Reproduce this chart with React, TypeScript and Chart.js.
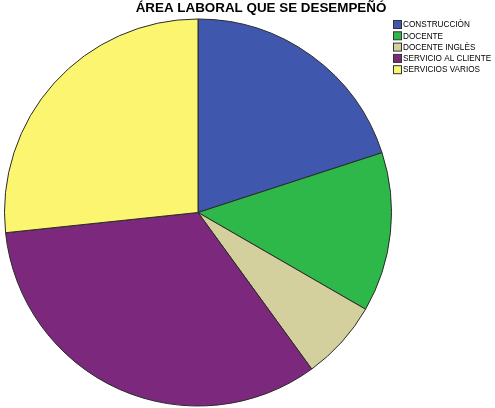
import React, { useEffect, useRef } from "react";
import { Chart, registerables } from "chart.js";

Chart.register(...registerables);

const title = "ÁREA LABORAL QUE SE DESEMPEÑÓ";
const categories = ["CONSTRUCCIÒN", "DOCENTE", "DOCENTE INGLÈS", "SERVICIO AL CLIENTE", "SERVICIOS VARIOS"];
const values = [3, 2, 1, 5, 4];
const colors = ["#3f58ad", "#2fb84a", "#d4d09e", "#7c287c", "#fbf570"];

const overlayPlugin = {
  id: "overlay",
  afterDraw(chart: any) {
    const ctx = chart.ctx;
    ctx.save();
    ctx.fillStyle = "#000";
    ctx.font = "bold 13.4px 'Liberation Sans', Arial, sans-serif";
    ctx.textAlign = "center";
    ctx.textBaseline = "middle";
    ctx.fillText(title, 261, 8.5);
    const labels = chart.data.labels;
    const bg = chart.data.datasets[0].backgroundColor;
    ctx.font = "8.2px 'Liberation Sans', Arial, sans-serif";
    ctx.textAlign = "left";
    labels.forEach((l: string, i: number) => {
      const y = 25 + i * 11.3;
      ctx.fillStyle = bg[i];
      ctx.fillRect(393.5, y - 4.5, 8, 8);
      ctx.strokeStyle = "#333";
      ctx.lineWidth = 1;
      ctx.strokeRect(393.5, y - 4.5, 8, 8);
      ctx.fillStyle = "#000";
      ctx.fillText(l, 403, y);
    });
    ctx.restore();
  },
};

export default function App() {
  const ref = useRef<HTMLCanvasElement>(null);
  useEffect(() => {
    if (!ref.current) return;
    const chart = new Chart(ref.current, {
      type: "pie",
      data: {
        labels: categories,
        datasets: [
          {
            data: values,
            backgroundColor: colors,
            borderColor: "#2a2a2a",
            borderWidth: 1,
          },
        ],
      },
      options: {
        animation: false,
        responsive: false,
        maintainAspectRatio: false,
        layout: { padding: { left: 4, top: 17, right: 103, bottom: 0 } },
        plugins: {
          legend: { display: false },
          title: { display: false },
          tooltip: { enabled: false },
        },
      },
      plugins: [overlayPlugin],
    });
    return () => chart.destroy();
  }, []);
  return (
    <div style={{ position: "fixed", left: 0, top: 0, width: 495, height: 408, background: "#fff" }}>
      <canvas ref={ref} width={495} height={408} style={{ width: 495, height: 408 }} />
    </div>
  );
}
